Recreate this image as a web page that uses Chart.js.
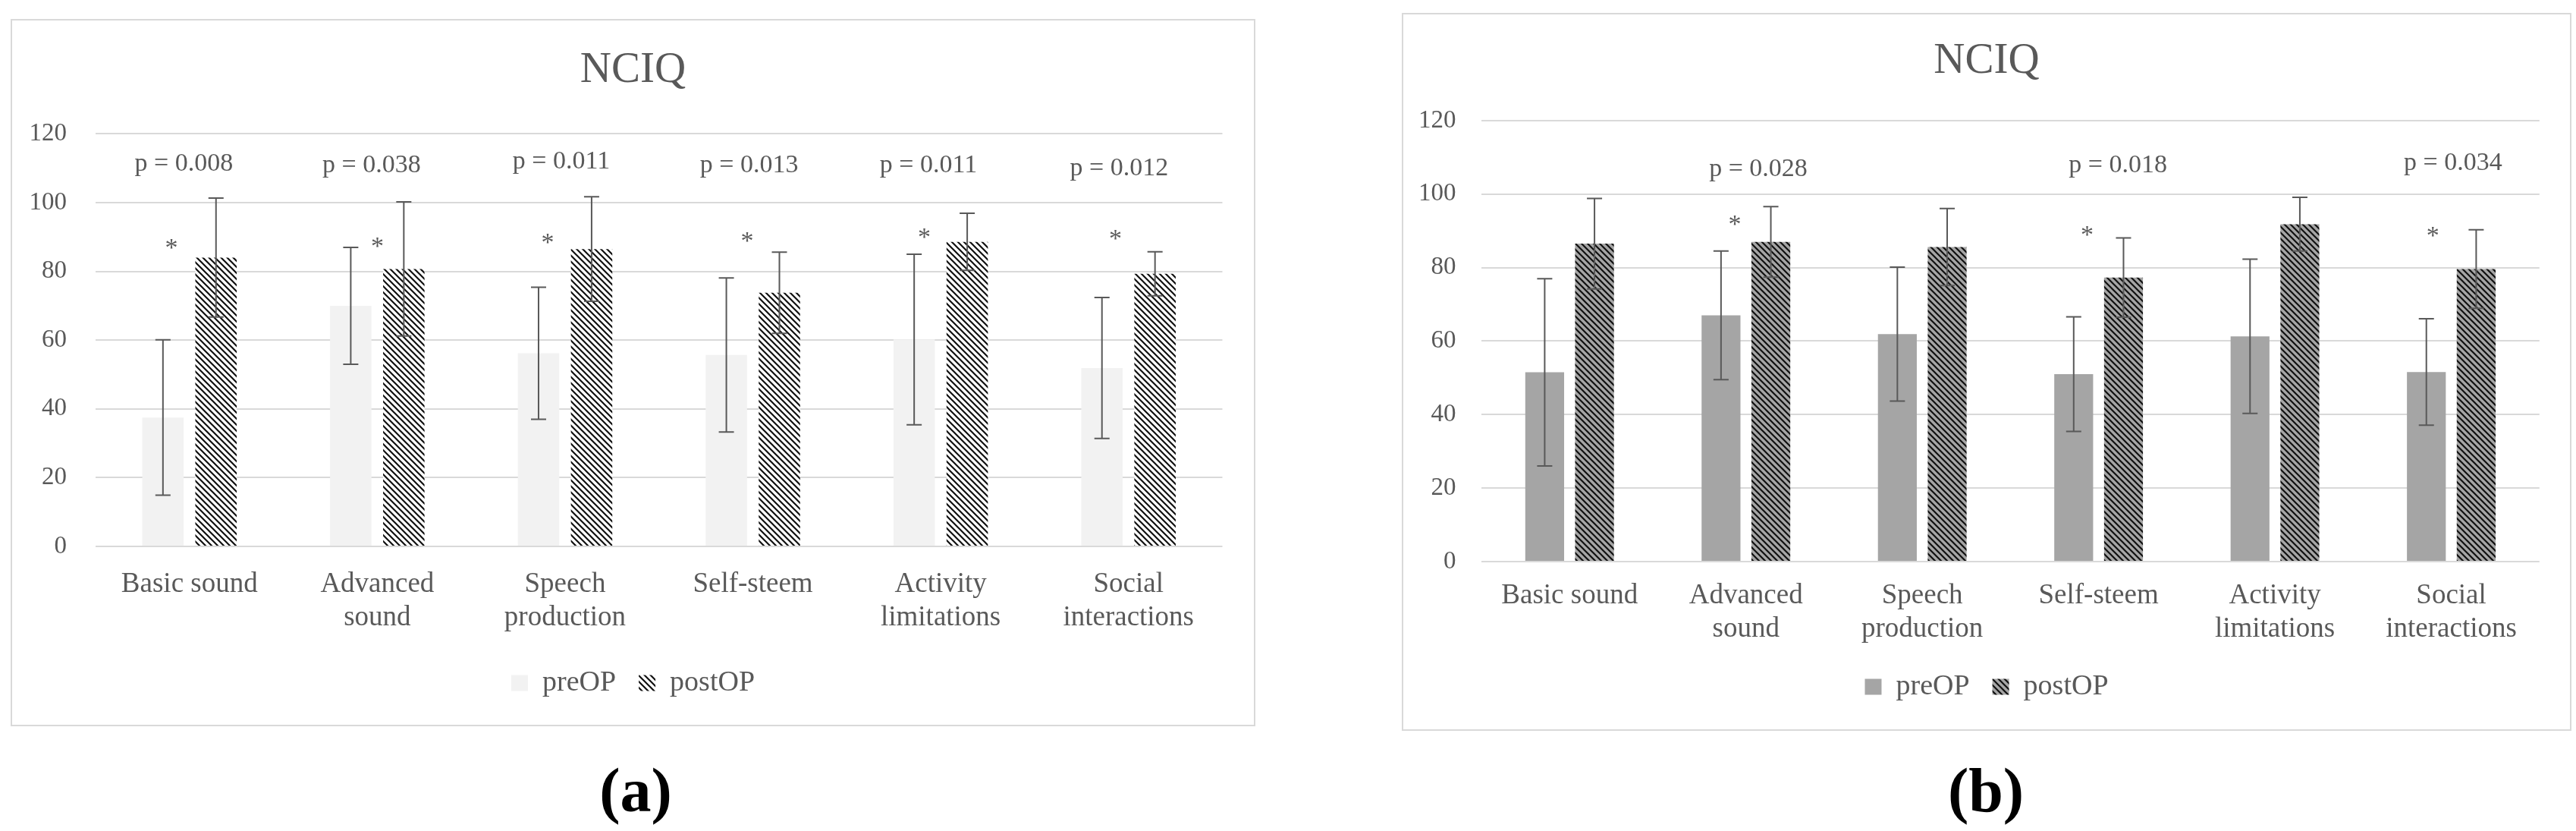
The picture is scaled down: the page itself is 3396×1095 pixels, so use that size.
<!DOCTYPE html>
<html>
<head>
<meta charset="utf-8">
<script src="https://cdn.jsdelivr.net/npm/chart.js@4.4.1/dist/chart.umd.min.js"></script>
<style>
  body { margin: 0; background: #fff; width: 3396px; height: 1095px; position: relative; overflow: hidden; font-family: 'Liberation Serif', serif; }
  .frame { position: absolute; border: 2px solid #d9d9d9; box-sizing: border-box; }
  canvas { position: absolute; top: 0; }
  .tag { position: absolute; width: 200px; text-align: center; font-size: 82px; line-height: 82px; font-weight: bold; color: #000; }
</style>
</head>
<body>
<div class="frame" style="left:14px;top:25px;width:1641px;height:932px"></div>
<div class="frame" style="left:1848px;top:17px;width:1542px;height:946px"></div>
<canvas id="chartA" width="1700" height="1000" style="left:0"></canvas>
<canvas id="chartB" width="1696" height="1000" style="left:1700px"></canvas>
<div class="tag" style="left:738px;top:1001px">(a)</div>
<div class="tag" style="left:2518px;top:1001px">(b)</div>
<script>
// NCIQ subdomains
const categories = [['Basic sound'], ['Advanced', 'sound'], ['Speech', 'production'], ['Self-steem'], ['Activity', 'limitations'], ['Social', 'interactions']];
const seriesNames = ['preOP', 'postOP'];
const yTicks = { min: 0, max: 120, step: 20 };

// panel (a)
const preA = [37.5, 70.0, 56.2, 55.7, 60.2, 51.9];
const preSdA = [22.6, 17.0, 19.2, 22.4, 24.8, 20.5];
const postA = [84.0, 80.7, 86.5, 73.8, 88.6, 79.3];
const postSdA = [17.3, 19.5, 15.2, 11.8, 8.3, 6.4];
const pTextA = ['p = 0.008', 'p = 0.038', 'p = 0.011', 'p = 0.013', 'p = 0.011', 'p = 0.012'];
const pLevelA = [111.3, 110.8, 111.9, 110.8, 110.8, 110.0];
const pShiftA = [-0.03, -0.03, -0.02, -0.02, -0.065, -0.05];
const starLevelA = [87.3, 87.9, 88.9, 89.4, 90.4, 90.0];
const starShiftA = [-0.096, 0, -0.093, -0.03, -0.087, -0.07];

// panel (b)
const preB = [51.5, 67.0, 61.9, 51.0, 61.3, 51.6];
const preSdB = [25.5, 17.5, 18.2, 15.6, 21.0, 14.5];
const postB = [86.5, 87.0, 85.6, 77.3, 91.8, 79.6];
const postSdB = [12.3, 9.6, 10.5, 10.8, 7.3, 10.7];
const pTextB = [null, 'p = 0.028', null, 'p = 0.018', null, 'p = 0.034'];
const pLevelB = [null, 106.7, null, 107.8, null, 108.3];
const pShiftB = [0, 0.07, 0, 0.11, 0, 0.01];
const starLevelB = [null, 92.3, null, 89.4, null, 89.1];
const starShiftB = [0, -0.063, 0, -0.065, 0, -0.105];

const TEXT = '#595959';
Chart.defaults.font.family = "'Liberation Serif', 'Times New Roman', serif";
Chart.defaults.color = TEXT;

function makeHatch(ctx, bg) {
    const tile = document.createElement('canvas');
    tile.width = 8;
    tile.height = 8;
    const g = tile.getContext('2d');
    g.fillStyle = bg;
    g.fillRect(0, 0, 8, 8);
    g.strokeStyle = '#111';
    g.lineWidth = 2.2;
    g.beginPath();
    g.moveTo(-2, -2); g.lineTo(10, 10);
    g.moveTo(-2, 6); g.lineTo(2, 10);
    g.moveTo(6, -2); g.lineTo(10, 2);
    g.stroke();
    return ctx.createPattern(tile, 'repeat');
}

// mean +/- sd whiskers
const errorBars = {
    id: 'errorBars',
    afterDatasetsDraw(chart) {
        const ctx = chart.ctx;
        const y = chart.scales.y;
        ctx.save();
        ctx.strokeStyle = TEXT;
        ctx.lineWidth = 2;
        chart.data.datasets.forEach((ds, i) => {
            chart.getDatasetMeta(i).data.forEach((bar, j) => {
                const top = y.getPixelForValue(ds.data[j] + ds.sd[j]);
                const bot = y.getPixelForValue(ds.data[j] - ds.sd[j]);
                ctx.beginPath();
                ctx.moveTo(bar.x, top); ctx.lineTo(bar.x, bot);
                ctx.moveTo(bar.x - 10, top); ctx.lineTo(bar.x + 10, top);
                ctx.moveTo(bar.x - 10, bot); ctx.lineTo(bar.x + 10, bot);
                ctx.stroke();
            });
        });
        ctx.restore();
    }
};

// p values and significance stars
const notes = {
    id: 'notes',
    afterDraw(chart, args, opts) {
        const ctx = chart.ctx;
        const x = chart.scales.x;
        const y = chart.scales.y;
        const step = x.getPixelForValue(1) - x.getPixelForValue(0);
        ctx.save();
        ctx.fillStyle = TEXT;
        ctx.textAlign = 'center';
        ctx.textBaseline = 'middle';
        ctx.font = "34px 'Liberation Serif', serif";
        categories.forEach((c, i) => {
            if (opts.pText[i]) {
                ctx.fillText(opts.pText[i], x.getPixelForValue(i) + opts.pShift[i] * step, y.getPixelForValue(opts.pLevel[i]));
            }
            if (opts.starLevel[i] != null) {
                ctx.fillText('*', x.getPixelForValue(i) + opts.starShift[i] * step, y.getPixelForValue(opts.starLevel[i]) + 4);
            }
        });
        ctx.restore();
    }
};

function buildChart(canvasId, cfg) {
    const ctx = document.getElementById(canvasId).getContext('2d');
    return new Chart(ctx, {
        type: 'bar',
        data: {
            labels: categories,
            datasets: [
                { label: seriesNames[0], data: cfg.pre, sd: cfg.preSd, backgroundColor: cfg.preColor, yAxisID: 'y' },
                { label: seriesNames[1], data: cfg.post, sd: cfg.postSd, backgroundColor: makeHatch(ctx, cfg.hatchBg), yAxisID: 'y' }
            ]
        },
        options: {
            responsive: false,
            animation: false,
            devicePixelRatio: 1,
            layout: { padding: cfg.padding },
            datasets: { bar: { categoryPercentage: 0.565, barPercentage: 0.78, borderWidth: 0 } },
            scales: {
                x: {
                    grid: { display: false, drawTicks: false },
                    border: { display: false },
                    ticks: { font: { size: 37, lineHeight: 1.21 }, color: TEXT, padding: cfg.xPad },
                    afterFit: s => { s.height = cfg.xHeight; }
                },
                y: {
                    min: yTicks.min,
                    max: yTicks.max,
                    ticks: { stepSize: yTicks.step, font: { size: 33 }, color: TEXT, padding: cfg.yPad },
                    grid: { color: '#d9d9d9', lineWidth: 2, drawTicks: false },
                    border: { display: false },
                    afterFit: s => { s.width = cfg.yWidth; }
                },
                yR: {
                    position: 'right',
                    grid: { display: false },
                    ticks: { display: false },
                    border: { display: false },
                    afterFit: s => { s.width = cfg.rWidth; }
                }
            },
            plugins: {
                title: {
                    display: true,
                    text: 'NCIQ',
                    color: TEXT,
                    font: { size: 57, weight: 'normal', lineHeight: 1.2 },
                    padding: cfg.titlePad
                },
                legend: {
                    position: 'bottom',
                    labels: { boxWidth: 22, boxHeight: 21, padding: 30, color: TEXT, font: { size: 38 } }
                },
                tooltip: { enabled: false },
                notes: cfg.notes
            }
        },
        plugins: [errorBars, notes]
    });
}

buildChart('chartA', {
    pre: preA, preSd: preSdA, post: postA, postSd: postSdA,
    preColor: '#f2f2f2', hatchBg: '#ffffff',
    padding: { left: 15, right: 46, top: 0, bottom: 71 },
    titlePad: { top: 58.8, bottom: 49.2 },
    yWidth: 111, yPad: 38, rWidth: 42.5, xHeight: 131, xPad: 27.6,
    notes: { pText: pTextA, pLevel: pLevelA, pShift: pShiftA, starLevel: starLevelA, starShift: starShiftA }
});

buildChart('chartB', {
    pre: preB, preSd: preSdB, post: postB, postSd: postSdB,
    preColor: '#a5a5a5', hatchBg: '#a5a5a5',
    padding: { left: 149, right: 7, top: 0, bottom: 66 },
    titlePad: { top: 46.5, bottom: 44 },
    yWidth: 104, yPad: 33.5, rWidth: 41.2, xHeight: 116, xPad: 22.6,
    notes: { pText: pTextB, pLevel: pLevelB, pShift: pShiftB, starLevel: starLevelB, starShift: starShiftB }
});
</script>
</body>
</html>
